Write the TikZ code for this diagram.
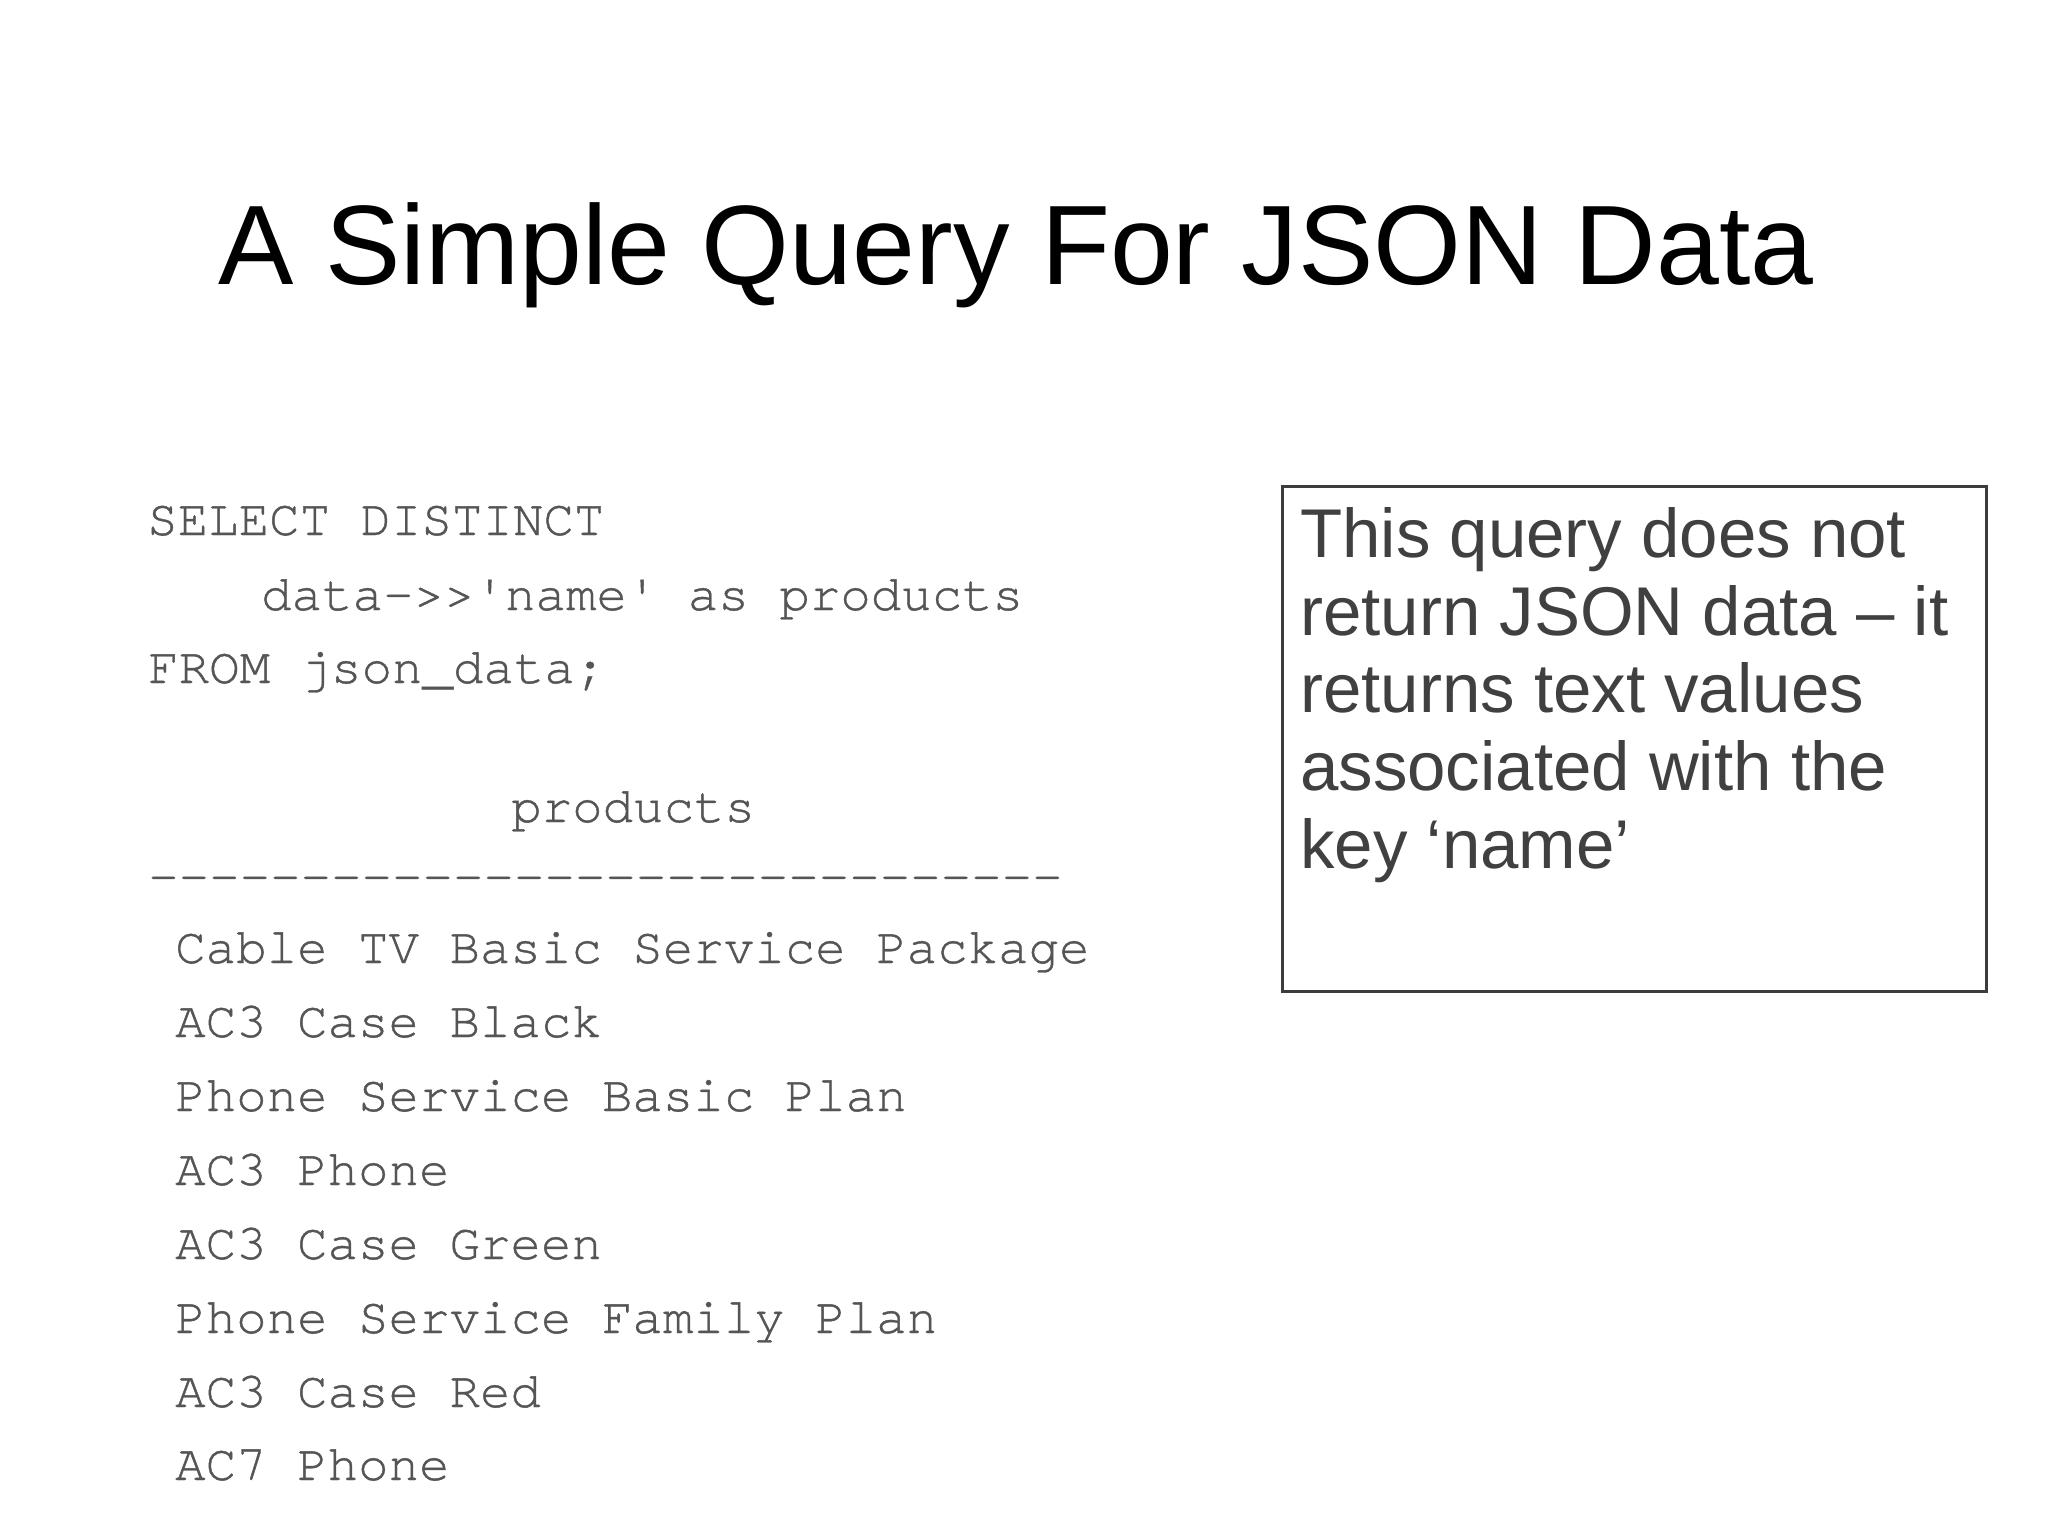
\documentclass[tikz,border=0pt]{standalone}
\usepackage{fontspec}
\setmainfont{Liberation Sans}
\newfontfamily\codefont[Ligatures=TeXOff,FakeBold=0.8]{texgyrecursor-regular.otf}
\definecolor{codegray}{HTML}{555555}
\definecolor{notegray}{HTML}{404040}
\definecolor{boxgray}{HTML}{3C3C3C}
\begin{document}
\begin{tikzpicture}[x=1pt,y=-1pt,
  codeline/.style={anchor=base west, inner sep=0pt, text=codegray, font=\codefont\fontsize{50.8}{60}\selectfont},
  noteline/.style={anchor=base west, inner sep=0pt, text=notegray, font=\fontsize{69}{78}\selectfont},
  notebox/.style={draw=boxgray, line width=2.5pt, anchor=north west, minimum width=704pt, minimum height=505pt, inner sep=0pt}]
\useasboundingbox (0,0) rectangle (2048,1535);
\fill[white] (0,0) rectangle (2048,1535);
\node[anchor=base, inner sep=0pt, font=\fontsize{113}{130}\selectfont] (title) at (1016,284) {A Simple Query For JSON Data};
% query
\node[codeline] (q1) at (147,535) {SELECT DISTINCT};
\node[codeline] (q2) at (261,610) {data->>'name' as products};
\node[codeline] (q3) at (148,683) {FROM json\_data;};
% result header
\node[codeline] (hdr) at (511,822) {products};
\node[codeline] (sep) at (148,892) {------------------------------};
% rows
\node[codeline] (r1) at (175,963) {Cable TV Basic Service Package};
\node[codeline] (r2) at (175,1037) {AC3 Case Black};
\node[codeline] (r3) at (175,1111) {Phone Service Basic Plan};
\node[codeline] (r4) at (175,1185) {AC3 Phone};
\node[codeline] (r5) at (175,1259) {AC3 Case Green};
\node[codeline] (r6) at (175,1333) {Phone Service Family Plan};
\node[codeline] (r7) at (175,1407) {AC3 Case Red};
\node[codeline] (r8) at (175,1480) {AC7 Phone};
% note box
\node[notebox] (box) at (1281,485) {};
\node[noteline] (n1) at (1300,557) {This query does not};
\node[noteline] (n2) at (1300,635) {return JSON data – it};
\node[noteline] (n3) at (1300,712) {returns text values};
\node[noteline] (n4) at (1300,790) {associated with the};
\node[noteline] (n5) at (1300,868) {key ‘name’};
\end{tikzpicture}
\end{document}
